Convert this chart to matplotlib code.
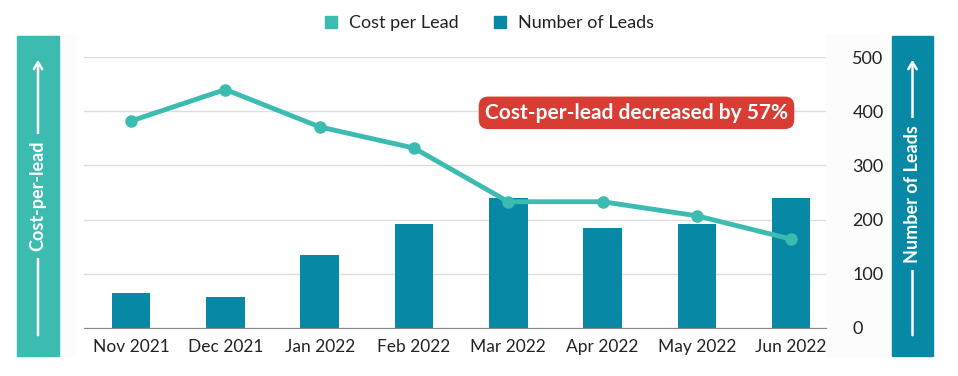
import matplotlib.pyplot as plt
from matplotlib.patches import Rectangle, FancyArrowPatch
from matplotlib.lines import Line2D

plt.rcParams['font.family'] = ['Lato', 'DejaVu Sans']

# dados
months = ['Nov 2021', 'Dec 2021', 'Jan 2022', 'Feb 2022',
          'Mar 2022', 'Apr 2022', 'May 2022', 'Jun 2022']
num_leads = [65, 57, 134, 192, 240, 184, 192, 240]
cost_per_lead = [382, 440, 371, 332, 233, 233, 207, 164]
y_ticks = [0, 100, 200, 300, 400, 500]
note = 'Cost-per-lead decreased by 57%'

LINE_COLOR = '#3cbcb1'
BAR_COLOR = '#0788a5'
RED = '#d83c32'
TXT = '#222222'

W, H = 958, 376
fig = plt.figure(figsize=(W / 100, H / 100), dpi=100)


def fx(px):
    return px / W


def fy(py):
    return 1 - py / H


# fundo claro atras das faixas laterais
fig.add_artist(Rectangle((fx(17), fy(356)), fx(58), 322 / H,
                         transform=fig.transFigure, color='#fcfcfc', zorder=0))
fig.add_artist(Rectangle((fx(826), fy(356)), fx(66), 322 / H,
                         transform=fig.transFigure, color='#fcfcfc', zorder=0))

ax = fig.add_axes([fx(84), fy(328), fx(826 - 84), (328 - 57) / H])
ax.set_facecolor('none')
x = list(range(len(months)))

ax.bar(x, num_leads, width=0.41, color=BAR_COLOR, zorder=2)

# linha no eixo gemeo (escondido)
ax2 = ax.twinx()
ax2.set_ylim(0, 500)
ax2.plot(x, cost_per_lead, color=LINE_COLOR, linewidth=3.5, marker='o',
         markersize=8, zorder=4)
ax2.axis('off')

ax.set_ylim(0, 500)
ax.set_xlim(-0.5, 7.37)
ax.set_yticks(y_ticks)
ax.yaxis.tick_right()
ax.tick_params(axis='y', length=0, pad=19, labelsize=13, labelcolor=TXT)
ax.tick_params(axis='x', length=0, pad=8, labelsize=12.5, labelcolor=TXT)
for lbl in ax.get_yticklabels():
    lbl.set_horizontalalignment('left')
ax.set_xticks(x)
ax.set_xticklabels(months)
ax.grid(axis='y', color='#dddddd', linewidth=1, zorder=0)
for s in ['top', 'left', 'right']:
    ax.spines[s].set_visible(False)
ax.spines['bottom'].set_color('#888888')
ax.spines['bottom'].set_zorder(3)

ax2.text(5.36, 397, note, ha='center', va='center', color='white',
         fontsize=15, fontweight='bold', zorder=5,
         bbox=dict(boxstyle='round,pad=0.3,rounding_size=0.45',
                   facecolor=RED, edgecolor='none'))

# legenda
h1 = Line2D([], [], marker='s', linestyle='none', color=LINE_COLOR, markersize=9)
h2 = Line2D([], [], marker='s', linestyle='none', color=BAR_COLOR, markersize=9)
fig.legend([h1, h2], ['Cost per Lead', 'Number of Leads'], loc='center',
           bbox_to_anchor=(fx(489), fy(23)), ncol=2, frameon=False,
           fontsize=13, handlelength=0.8, handletextpad=0.6,
           columnspacing=1.9, labelcolor=TXT)


def side_band(x0, x1, color, label, ty):
    fig.add_artist(Rectangle((fx(x0), fy(356)), fx(x1 - x0), 320 / H,
                             transform=fig.transFigure, color=color, zorder=1))
    cx = (x0 + x1) / 2
    fig.add_artist(FancyArrowPatch((fx(cx), fy(338)), (fx(cx), fy(57)),
                                   transform=fig.transFigure,
                                   arrowstyle='->,head_length=5,head_width=3',
                                   color='white', linewidth=1.8, zorder=2))
    fig.text(fx(cx), fy(ty), label, rotation=90, ha='center', va='center',
             color='white', fontsize=13, fontweight='bold', zorder=3,
             bbox=dict(facecolor=color, edgecolor='none', pad=5))


side_band(17, 59, LINE_COLOR, 'Cost-per-lead', 196)
side_band(892, 933, BAR_COLOR, 'Number of Leads', 194)

fig.savefig('out.png', dpi=100)
